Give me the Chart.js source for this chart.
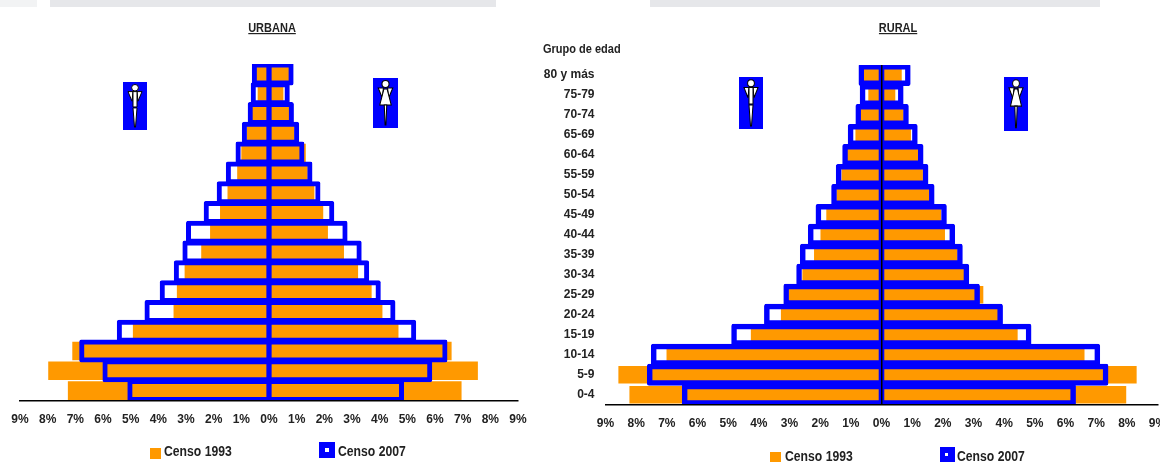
<!DOCTYPE html>
<html>
<head>
<meta charset="utf-8">
<title>Piramide de poblacion</title>
<script src="https://cdn.jsdelivr.net/npm/chart.js@4"></script>
<style>
    html, body { margin: 0; padding: 0; background: #fff; overflow: hidden; }
    #page { position: relative; width: 1160px; height: 462px; overflow: hidden; font-family: 'Liberation Sans', Arial, sans-serif; font-weight: bold; color: #222; }
    canvas { position: absolute; top: 0; }
    .text { position: absolute; white-space: nowrap; line-height: 16px; height: 16px; transform: scaleY(1.2); }
    .title { text-decoration: underline; font-size: 11px; transform: translateX(-50%) scaleY(1.2); }
    .legend_text { font-size: 12.2px; }
    .box { position: absolute; }
    .strip { position: absolute; top: 0; height: 7px; background: #e6e7ea; }
    svg { position: absolute; }
</style>
</head>
<body>
<div id="page">
    <div class="strip" style="left:0;width:37px;opacity:.5"></div>
    <div class="strip" style="left:50px;width:446px"></div>
    <div class="strip" style="left:650px;width:450px"></div>

    <canvas id="urban_chart" width="560" height="462" style="left:0"></canvas>
    <canvas id="rural_chart" width="630" height="462" style="left:530px"></canvas>

    <div class="text title" style="left:272px;top:19px">URBANA</div>
    <div class="text title" style="left:898px;top:19px">RURAL</div>
    <div class="text" style="left:543px;top:40px;font-size:11px">Grupo de edad</div>

    <div class="box" style="left:150px;top:448px;width:11px;height:11px;background:#ff9900"></div>
    <div class="text legend_text" style="left:164px;top:443px">Censo 1993</div>
    <div class="box" style="left:319px;top:442px;width:16px;height:16px;background:#0000ff"></div>
    <div class="box" style="left:325px;top:448px;width:4px;height:4px;background:#fff"></div>
    <div class="text legend_text" style="left:338px;top:443px">Censo 2007</div>

    <div class="box" style="left:770px;top:452px;width:11px;height:10px;background:#ff9900"></div>
    <div class="text legend_text" style="left:785px;top:448px">Censo 1993</div>
    <div class="box" style="left:940px;top:447px;width:15px;height:15px;background:#0000ff"></div>
    <div class="box" style="left:945px;top:453px;width:3px;height:3px;background:#fff"></div>
    <div class="text legend_text" style="left:957px;top:448px">Censo 2007</div>
</div>

<script>
const age_groups = ['80 y más', '75-79', '70-74', '65-69', '60-64', '55-59', '50-54', '45-49', '40-44', '35-39', '30-34', '25-29', '20-24', '15-19', '10-14', '5-9', '0-4']
const x_ticks = [-9, -8, -7, -6, -5, -4, -3, -2, -1, 0, 1, 2, 3, 4, 5, 6, 7, 8, 9]

const urban_men_1993 = [0.55, 0.41, 0.62, 0.80, 1.00, 1.15, 1.50, 1.77, 2.13, 2.45, 3.05, 3.33, 3.45, 4.92, 7.11, 7.98, 7.27]
const urban_women_1993 = [0.75, 0.52, 0.75, 0.92, 1.33, 1.40, 1.64, 1.96, 2.13, 2.71, 3.22, 3.71, 4.10, 4.68, 6.60, 7.55, 6.96]
const urban_men_2007 = [0.53, 0.57, 0.68, 0.89, 1.12, 1.47, 1.80, 2.27, 2.91, 3.04, 3.35, 3.86, 4.41, 5.41, 6.77, 5.93, 5.03]
const urban_women_2007 = [0.80, 0.66, 0.81, 1.00, 1.19, 1.48, 1.77, 2.27, 2.75, 3.26, 3.53, 3.95, 4.48, 5.23, 6.36, 5.81, 4.79]

const rural_men_1993 = [0.60, 0.43, 0.68, 0.85, 1.13, 1.30, 1.47, 1.80, 1.99, 2.20, 2.58, 3.04, 3.28, 4.26, 7.01, 8.58, 8.22]
const rural_women_1993 = [0.66, 0.45, 0.72, 0.96, 1.20, 1.35, 1.55, 1.94, 2.07, 2.48, 2.69, 3.32, 3.80, 4.44, 6.62, 8.32, 7.98]
const rural_men_2007 = [0.66, 0.62, 0.76, 1.01, 1.19, 1.40, 1.55, 2.06, 2.31, 2.57, 2.69, 3.11, 3.74, 4.81, 7.43, 7.56, 6.42]
const rural_women_2007 = [0.86, 0.63, 0.80, 1.09, 1.28, 1.44, 1.64, 2.04, 2.31, 2.56, 2.77, 3.12, 3.87, 4.80, 7.04, 7.31, 6.25]

const ORANGE = '#ff9900'
const BLUE = '#0000ff'
const LABEL_FONT = "'Liberation Sans', Arial, sans-serif"

function print_pyramid(param = {}) {
    // the 2007 outline is centred on its value, chart.js draws borders inside the bar
    let half = param.border / 2 / param.px_per_unit

    let data = {
        labels: age_groups,
        datasets: [
            outline_dataset(param.men_2007.map(v => -(v + half)), half, param),
            outline_dataset(param.women_2007.map(v => v + half), -half, param),
            filled_dataset(param.men_1993.map(v => -v), param),
            filled_dataset(param.women_1993, param)
        ]
    }

    let config = {
        type: 'bar',
        data: data,
        options: {
            indexAxis: 'y',
            responsive: false,
            animation: false,
            devicePixelRatio: 1,
            layout: { padding: param.padding },
            plugins: { legend: { display: false }, tooltip: { enabled: false } },
            scales: {
                x: {
                    min: -9,
                    max: 9,
                    afterBuildTicks: scale => { scale.ticks = x_ticks.map(value => ({ value })) },
                    afterFit: scale => {
                        scale.paddingLeft = 0
                        scale.paddingRight = 0
                        scale.height = 28
                    },
                    // border has to share the grid layer, it reads its position from the grid pass
                    border: { display: true, color: '#000', width: 1.5, z: 1 },
                    grid: {
                        display: param.center_line,
                        z: 1,
                        drawTicks: false,
                        lineWidth: 1.5,
                        color: ctx => ctx.tick && ctx.tick.value === 0 ? '#000' : 'transparent'
                    },
                    ticks: {
                        autoSkip: false,
                        maxRotation: 0,
                        padding: 12,
                        color: '#222',
                        font: { family: LABEL_FONT, size: 12, weight: 'bold' },
                        callback: value => `${Math.abs(value)}%`
                    }
                },
                y: {
                    display: param.y_width > 0,
                    afterFit: scale => { scale.width = param.y_width },
                    border: { display: false },
                    grid: { display: false, drawTicks: false },
                    ticks: {
                        autoSkip: false,
                        padding: 11,
                        color: '#222',
                        font: { family: LABEL_FONT, size: 12, weight: 'bold' }
                    }
                }
            }
        }
    }

    return new Chart(document.getElementById(param.id), config)
}

function outline_dataset(values, base, param) {
    return {
        label: 'Censo 2007',
        data: values,
        base: base,
        order: 1,
        grouped: false,
        backgroundColor: 'transparent',
        borderColor: BLUE,
        borderWidth: param.border,
        borderSkipped: false,
        borderRadius: 2,
        categoryPercentage: 1,
        barPercentage: param.outline_height
    }
}

function filled_dataset(values, param) {
    return {
        label: 'Censo 1993',
        data: values,
        order: 2,
        grouped: false,
        backgroundColor: ORANGE,
        borderWidth: 0,
        categoryPercentage: 1,
        barPercentage: param.fill_height
    }
}

function print_icon(left, top, width, height, woman) {
    const page = document.getElementById('page')
    let arms = `<path d="M5 10 L10 10 L9 20 Z M19 10 L14 10 L15 20 Z" fill="#fff" stroke="#000" stroke-width="1"/>`
    let body = woman
        ? `<path d="M10.5 11 L13.5 11 L17.5 27 L6.5 27 Z" fill="#fff" stroke="#000" stroke-width="1"/><path d="M10.8 27 L13.2 27 L12.4 47 L11.6 47 Z" fill="#fff" stroke="#000" stroke-width="1"/>`
        : `<path d="M10 10 L14 10 L14 26 L10 26 Z" fill="#fff" stroke="#000" stroke-width="1"/><path d="M10 27 L14 27 L12.5 47 L11.5 47 Z" fill="#fff" stroke="#000" stroke-width="1"/>`
    let svg = `<svg style="left:${left}px;top:${top}px" width="${width}" height="${height}" viewBox="0 0 24 50" preserveAspectRatio="none">
        <rect width="24" height="50" fill="${BLUE}"/>
        <circle cx="12" cy="6" r="3.4" fill="#fff" stroke="#000" stroke-width="1"/>
        ${arms}${body}
    </svg>`
    page.insertAdjacentHTML('beforeend', svg)
}

print_pyramid({
    id: 'urban_chart',
    men_1993: urban_men_1993,
    women_1993: urban_women_1993,
    men_2007: urban_men_2007,
    women_2007: urban_women_2007,
    padding: { left: 20, right: 42, top: 64, bottom: 33.5 },
    y_width: 0,
    px_per_unit: 27.67,
    border: 5,
    outline_height: 1.16,
    fill_height: 0.94,
    center_line: false
})

print_pyramid({
    id: 'rural_chart',
    men_1993: rural_men_1993,
    women_1993: rural_women_1993,
    men_2007: rural_men_2007,
    women_2007: rural_women_2007,
    padding: { left: 0, right: 2.5, top: 65, bottom: 29.3 },
    y_width: 75.5,
    px_per_unit: 30.67,
    border: 5.5,
    outline_height: 1.1,
    fill_height: 0.88,
    center_line: true
})

print_icon(123, 82, 24, 48, false)
print_icon(373, 78, 25, 50, true)
print_icon(739, 77, 24, 52, false)
print_icon(1004, 77, 24, 54, true)
</script>
</body>
</html>
